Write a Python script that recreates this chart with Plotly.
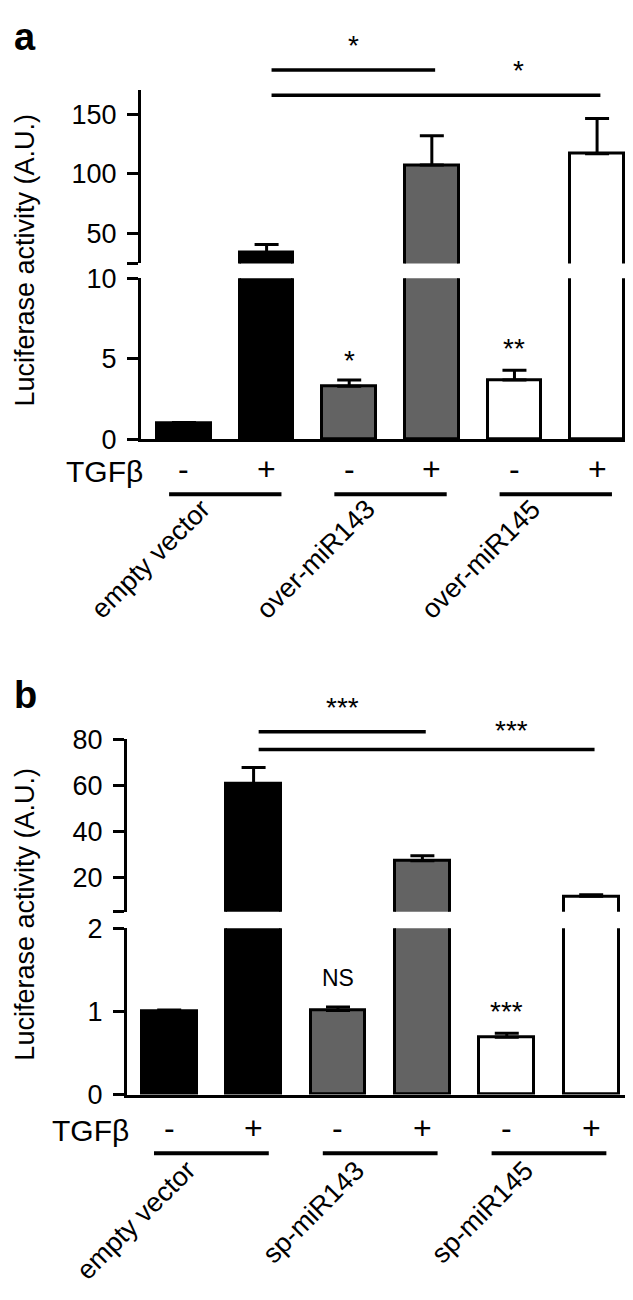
import plotly.graph_objects as go

W, H = 633, 1300

# ---------------- data ----------------
tgf_signs = ["-", "+", "-", "+", "-", "+"]
bar_colors = ["#000000", "#000000", "#636363", "#636363", "#ffffff", "#ffffff"]

a_groups = ["empty vector", "over-miR143", "over-miR145"]
a_values = [1.0, 34.0, 3.3, 107.5, 3.7, 117.0]
a_errors = [0.05, 7.0, 0.4, 24.5, 0.6, 29.5]
a_lower_ticks = [0, 5, 10]
a_upper_ticks = [50, 100, 150]
a_bar_marks = ["", "", "*", "", "**", ""]
a_sig = [(1, 3, "*"), (1, 5, "*")]

b_groups = ["empty vector", "sp-miR143", "sp-miR145"]
b_values = [1.0, 60.7, 1.015, 27.3, 0.69, 11.9]
b_errors = [0.02, 7.0, 0.04, 2.1, 0.05, 0.6]
b_lower_ticks = [0, 1, 2]
b_upper_ticks = [20, 40, 60, 80]
b_bar_marks = ["", "", "NS", "", "***", ""]
b_sig = [(1, 3, "***"), (1, 5, "***")]

FONT = "Liberation Sans, Arial, sans-serif"


def px_x(p):
    return p / W


def px_y(p):
    return 1 - p / H


fig = go.Figure()
xs = list(range(len(a_values)))


def add_bars(values, errors, xaxis, yaxis):
    fig.add_trace(go.Bar(
        x=xs, y=values, width=0.65,
        marker=dict(color=bar_colors, line=dict(color="black", width=3)),
        error_y=dict(type="data", array=errors, arrayminus=[0] * len(errors),
                     symmetric=False, color="black", thickness=3, width=12),
        xaxis=xaxis, yaxis=yaxis, showlegend=False, hoverinfo="skip"))


add_bars(a_values, a_errors, "x", "y")
add_bars(a_values, a_errors, "x", "y2")
add_bars(b_values, b_errors, "x2", "y3")
add_bars(b_values, b_errors, "x2", "y4")

xcommon = dict(showline=True, linewidth=3, linecolor="black", showticklabels=False,
               ticks="", showgrid=False, zeroline=False, fixedrange=True)
ycommon = dict(showline=True, linewidth=3, linecolor="black", ticks="outside",
               ticklen=11, tickwidth=3, tickcolor="black", showgrid=False, zeroline=False,
               tickfont=dict(family=FONT, size=27, color="black"), ticklabelstandoff=5)


def upper_axis(ticks, lo, hi, dom, anchor):
    vals = [lo] + ticks
    text = [""] + [str(t) for t in ticks]
    return dict(ycommon, domain=dom, range=[lo, hi], tickvals=vals, ticktext=text, anchor=anchor)


fig.update_layout(
    width=W, height=H, autosize=False,
    margin=dict(l=0, r=0, t=0, b=0),
    paper_bgcolor="white", plot_bgcolor="rgba(0,0,0,0)",
    bargap=0, barmode="overlay",
    xaxis=dict(xcommon, domain=[px_x(133), px_x(618)], range=[-0.52, 5.35], anchor="y"),
    yaxis=dict(ycommon, domain=[px_y(427), px_y(262)], range=[0, 10.02], tickvals=a_lower_ticks, anchor="x"),
    yaxis2=upper_axis(a_upper_ticks, 25, 170, [px_y(247), px_y(70)], "x"),
    xaxis2=dict(xcommon, domain=[px_x(119), px_x(622)], range=[-0.5, 5.46], anchor="y3"),
    yaxis3=dict(ycommon, domain=[px_y(1097), px_y(927)], range=[0, 2.005], tickvals=b_lower_ticks, anchor="x2"),
    yaxis4=upper_axis(b_upper_ticks, 5.2, 80.2, [px_y(910), px_y(733)], "x2"),
)

ann = []
shapes = []


def text(t, x, y, xref="paper", yref="paper", size=28, xanchor="center", yanchor="middle",
         angle=0, bold=False, yshift=0):
    ann.append(dict(text=("<b>%s</b>" % t) if bold else t, x=x, y=y, xref=xref, yref=yref,
                    showarrow=False, xanchor=xanchor, yanchor=yanchor, textangle=angle,
                    yshift=yshift, font=dict(family=FONT, size=size, color="black")))


def panel(label, label_y, xref, ylow, values, errors, marks, mark_shift, sig, sig_y, star_y,
          groups, tgf_x, row_y, grp_y, lab_y, title_y):
    text(label, px_x(17), px_y(label_y), size=38, bold=True)
    text("Luciferase activity (A.U.)", px_x(17), px_y(title_y), size=27, angle=-90)
    # marks above bars (lower axis)
    for i, m in enumerate(marks):
        if m:
            sz = 23 if m == "NS" else 28
            text(m, i, values[i] + errors[i], xref=xref, yref=ylow, size=sz,
                 yanchor="bottom", yshift=mark_shift[i])
    # significance brackets
    for k, (i0, i1, s) in enumerate(sig):
        shapes.append(dict(type="line", xref=xref, yref="paper", x0=i0 + 0.06, x1=i1 + 0.04,
                           y0=px_y(sig_y[k]), y1=px_y(sig_y[k]),
                           line=dict(color="black", width=3.5)))
        xm = (i0 + i1) / 2 + 0.05 if k == 0 else (i1 - 1) + 0.05
        text(s, xm, px_y(star_y[k]), xref=xref, size=28)
    # TGF row
    text("TGFβ", px_x(tgf_x), px_y(row_y + 3), size=30, xanchor="right")
    for i, s in enumerate(tgf_signs):
        text(s, i, px_y(row_y), xref=xref, size=32)
    # group lines and labels
    for g, name in enumerate(groups):
        c = 2 * g + 0.5
        shapes.append(dict(type="line", xref=xref, yref="paper", x0=c - 0.68, x1=c + 0.68,
                           y0=px_y(grp_y), y1=px_y(grp_y), line=dict(color="black", width=4)))
        text(name, c - 0.08, px_y(lab_y), xref=xref, size=27, xanchor="right",
             yanchor="top", angle=-45)


panel("a", 15, "x", "y", a_values, a_errors, a_bar_marks, [0, 0, 2, 0, 4, 0],
      a_sig, [49, 75], [24, 50],
      a_groups, 137, 457, 483, 479, 244)
panel("b", 688, "x2", "y3", b_values, b_errors, b_bar_marks, [0, 0, 14, 0, 4, 0],
      b_sig, [726, 744], [701, 725],
      b_groups, 123, 1131, 1157, 1156, 913)

fig.update_layout(annotations=ann, shapes=shapes)
fig.write_html("out.html")
